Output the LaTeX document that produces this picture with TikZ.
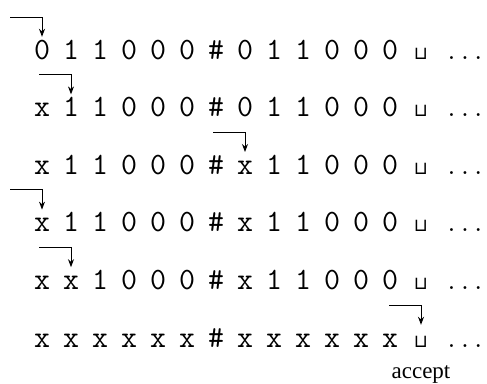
\documentclass[tikz,border=0pt]{standalone}
\usepackage{fontspec}
\setmainfont{Liberation Serif}
\setmonofont{Latin Modern Mono}
\newfontfamily\blankfont{DejaVu Sans}
\usetikzlibrary{positioning, arrows.meta}

\tikzset{
  sym/.style={font=\fontsize{31}{34}\selectfont\ttfamily, inner sep=0pt,
    text height=18pt, text depth=0pt, anchor=base},
  blank/.style={sym, font=\fontsize{18}{21}\selectfont\blankfont},
  dots/.style={sym, font=\fontsize{26}{30}\selectfont\ttfamily},
  headarrow/.style={->, line width=1pt, shorten >=4pt},
}

\begin{document}
\begin{tikzpicture}[>={Stealth[length=8pt,width=6pt]}, x=1pt, y=-1pt]

    % khung hinh
    \useasboundingbox (0,0) rectangle (487,383);

    % =================================================================
    % 1. CAC DONG BANG: ky hieu, o trong, dau ba cham, dau doc
    % =================================================================
    \foreach \tape/\head [count=\r] in {
        {0,1,1,0,0,0,\#,0,1,1,0,0,0}/0,
        {x,1,1,0,0,0,\#,0,1,1,0,0,0}/1,
        {x,1,1,0,0,0,\#,x,1,1,0,0,0}/7,
        {x,1,1,0,0,0,\#,x,1,1,0,0,0}/0,
        {x,x,1,0,0,0,\#,x,1,1,0,0,0}/1,
        {x,x,x,x,x,x,\#,x,x,x,x,x,x}/13}
    {
        \pgfmathsetmacro\yy{59+57.6*(\r-1)}

        % cac o cua bang
        \foreach \s [count=\i from 0] in \tape
            \node[sym] (c\r-\i) at ({42+29*\i},\yy) {\s};

        % o trong va dau ba cham
        \node[blank] (c\r-13) at (421,\yy) {⊔};
        \node[dots] (d\r) at (465,\yy) {...};

        % dau doc: mui ten gap khuc
        \coordinate (s\r) at ([shift={(-32,-42)}]c\r-\head.base);
        \draw[headarrow] (s\r) -| (c\r-\head.north);
    }

    % =================================================================
    % 2. NHAN CHAP NHAN
    % =================================================================
    \node[font=\fontsize{23}{26}\selectfont, inner sep=0pt,
          below=18pt of c6-13.south] (acc) {accept};

\end{tikzpicture}
\end{document}
